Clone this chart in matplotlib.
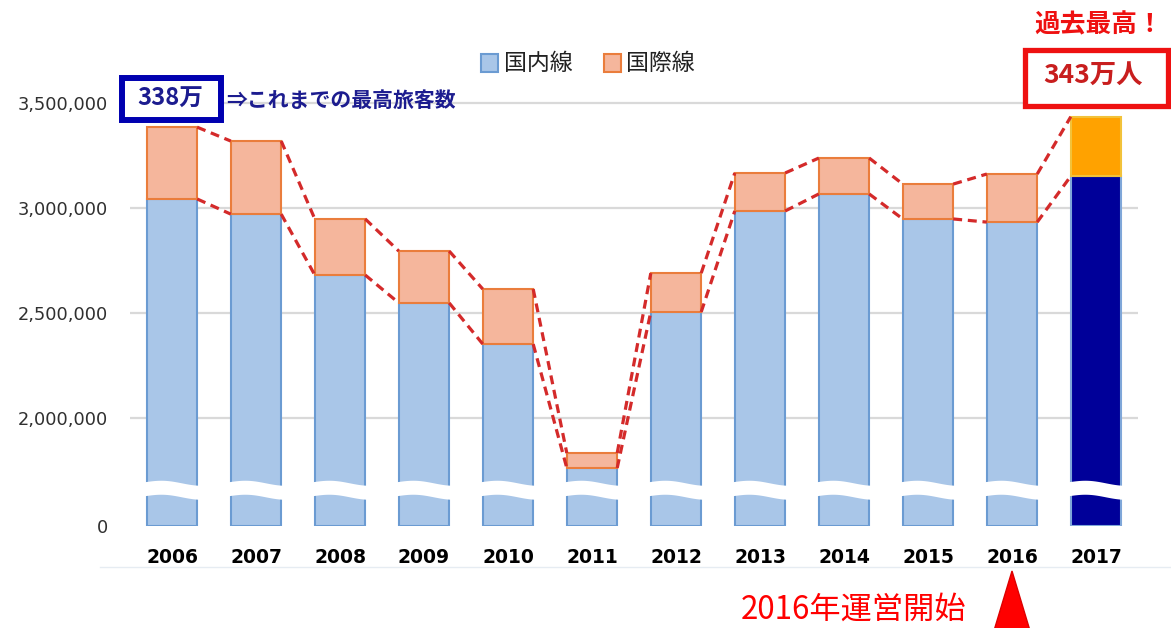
import numpy as np
import matplotlib
matplotlib.use("Agg")
import matplotlib.pyplot as plt
from matplotlib.patches import Rectangle, Polygon
from matplotlib.lines import Line2D

plt.rcParams['font.family'] = ['Noto Sans CJK JP', 'DejaVu Sans']

# ---------------- data ----------------
years = ['2006', '2007', '2008', '2009', '2010', '2011',
         '2012', '2013', '2014', '2015', '2016', '2017']
domestic = [3043000, 2971000, 2681000, 2548000, 2352000, 1762000,
            2505000, 2986000, 3067000, 2948000, 2933000, 3152000]
international = [342000, 348000, 267000, 247000, 262000, 71000,
                 185000, 181000, 171000, 166000, 229000, 283000]
series_names = ['国内線', '国際線']
ytick_values = [0, 2000000, 2500000, 3000000, 3500000]
ytick_labels = ['0', '2,000,000', '2,500,000', '3,000,000', '3,500,000']

W, H = 1171, 628
fig = plt.figure(figsize=(W / 100, H / 100), dpi=100)


def fx(px):
    return px / W


def fy(py):
    return 1 - py / H


ax = fig.add_axes([fx(130), fy(526), (1138 - 130) / W, (526 - 60) / H])

# broken axis: 0 sits where ~1.4857M would be
B = 1.4857e6


def fwd(v):
    v = np.asarray(v, dtype=float)
    return np.where(v >= B, v - B, (v - B) * 1e-6)


def inv(u):
    u = np.asarray(u, dtype=float)
    return np.where(u >= 0, u + B, u * 1e6 + B)


ax.set_yscale('function', functions=(fwd, inv))
ax.set_ylim(0, 3.705e6)

x = np.arange(len(years))
dom = np.array(domestic)
intl = np.array(international)
total = dom + intl
bw = 0.6

dom_face = ['#a9c6e8'] * (len(years) - 1) + ['#000099']
dom_edge = ['#6b9bd2'] * (len(years) - 1) + ['#7fa7d9']
int_face = ['#f5b69c'] * (len(years) - 1) + ['#ffa200']
int_edge = ['#ea7d3c'] * (len(years) - 1) + ['#f2c23a']

for v in ytick_values[1:]:
    ax.axhline(v, color='#d9d9d9', lw=1.6, zorder=0)

ax.bar(x, dom, width=bw, color=dom_face, edgecolor=dom_edge, lw=1.5, zorder=2)
ax.bar(x, intl, bottom=dom, width=bw, color=int_face, edgecolor=int_edge,
       lw=1.5, zorder=2)

# dashed connectors
red_dash = '#d42a2a'
for i in range(len(years) - 1):
    for lev in (total, dom):
        ax.plot([x[i] + bw / 2, x[i + 1] - bw / 2], [lev[i], lev[i + 1]],
                color=red_dash, lw=2.3, ls=(0, (2.8, 1.8)), zorder=4)

# wavy break band
PX = 500000 / 105
t = np.linspace(0, 1, 60)
for i in x:
    xs = i - bw / 2 - 0.03 + (bw + 0.06) * t
    off = -2 * np.sin(1.5 * np.pi * t) + 1.5 * t
    c = 1.663e6 - off * PX
    ax.fill_between(xs, c - 7 * PX, c + 7 * PX, color='white', lw=0, zorder=3)

ax.set_xlim(-0.5, len(years) - 0.5)
ax.set_xticks(x)
ax.set_xticklabels(years, fontsize=13.5, fontweight='bold',
                   family=['DejaVu Sans'])
ax.set_yticks(ytick_values)
ax.set_yticklabels(ytick_labels, fontsize=12.8, color='#303030',
                   family=['DejaVu Sans'])
ax.tick_params(axis='x', length=0, pad=16)
ax.tick_params(axis='y', length=0, pad=16)
ax.yaxis.set_minor_locator(matplotlib.ticker.NullLocator())
for s in ax.spines.values():
    s.set_visible(False)

# faint baseline below labels
fig.add_artist(Line2D([fx(100), 1], [fy(567), fy(567)], color='#e6ecf2',
                      lw=1, transform=fig.transFigure))

# legend
fig.patches.append(Rectangle((fx(481), fy(72)), 17 / W, 18 / H,
                             facecolor='#a9c6e8', edgecolor='#6b9bd2', lw=1.5,
                             transform=fig.transFigure))
fig.text(fx(504), fy(63), series_names[0], fontsize=16.5, va='center',
         ha='left', color='#222222')
fig.patches.append(Rectangle((fx(604), fy(72)), 17 / W, 18 / H,
                             facecolor='#f5b69c', edgecolor='#ea7d3c', lw=1.5,
                             transform=fig.transFigure))
fig.text(fx(626), fy(63), series_names[1], fontsize=16.5, va='center',
         ha='left', color='#222222')

# blue annotation box
fig.patches.append(Rectangle((fx(122), fy(120)), (221 - 122) / W, (120 - 78) / H,
                             facecolor='white', edgecolor='#0000b0', lw=4.3,
                             transform=fig.transFigure, zorder=5))
fig.text(fx(170), fy(99), '338万', fontsize=17, fontweight='bold',
         color='#1c1c8f', ha='center', va='center', zorder=6)
fig.text(fx(226), fy(100), '⇒これまでの最高旅客数', fontsize=15,
         fontweight='bold', color='#1c1c8f', ha='left', va='center', zorder=6)

# red annotation
fig.text(fx(1099), fy(25), '過去最高！', fontsize=18.5, fontweight='bold',
         color='#ee1111', ha='center', va='center')
fig.patches.append(Rectangle((fx(1024.5), fy(105.5)), (1167.5 - 1024.5) / W,
                             (105.5 - 49.5) / H, facecolor='white',
                             edgecolor='#ee1111', lw=3.8,
                             transform=fig.transFigure, zorder=5))
fig.text(fx(1093), fy(75), '343万人', fontsize=19, fontweight='bold',
         color='#c81e1e', ha='center', va='center', zorder=6)

# bottom note
fig.text(fx(854), fy(610), '2016年運営開始', fontsize=22.5, color='#ff0000',
         ha='center', va='center')
fig.patches.append(Polygon([(fx(1012), fy(571)), (fx(993), fy(634)),
                            (fx(1031), fy(634))], closed=True,
                           facecolor='#ff0000', edgecolor='#dd0000', lw=1,
                           transform=fig.transFigure))

fig.savefig('out.png', dpi=100)
